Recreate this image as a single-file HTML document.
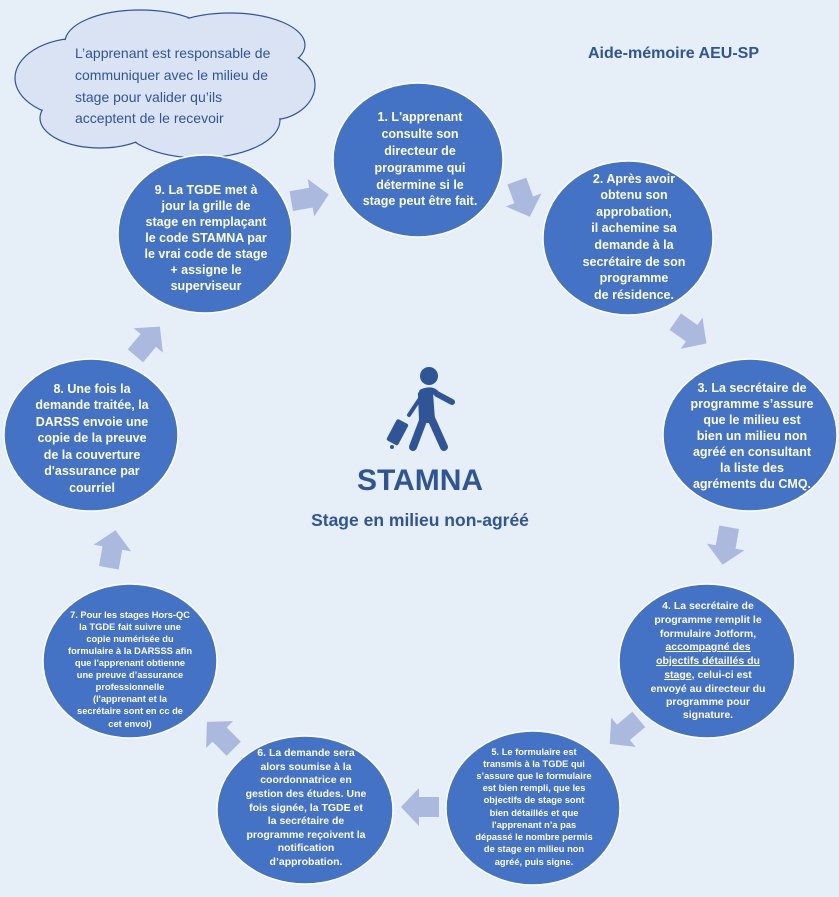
<!DOCTYPE html>
<html><head><meta charset="utf-8"><style>
html,body{margin:0;padding:0;background:#e6eef8;}
svg{display:block;}
.c{fill:#4472c4;stroke:#fff;stroke-width:1.5;}
.t{fill:#fff;font-family:"Liberation Sans",sans-serif;font-weight:bold;text-anchor:middle;}
.a{fill:#aab9dd;}
</style></head><body>
<svg width="839" height="897" viewBox="0 0 839 897" xmlns="http://www.w3.org/2000/svg">
<rect width="839" height="897" fill="#e6eef8"/>
<!-- cloud -->
<g fill="#dae3f3" stroke="#2f5597" stroke-width="1.2">
<ellipse cx="80" cy="78" rx="65" ry="40"/>
<ellipse cx="140" cy="42" rx="75" ry="32"/>
<ellipse cx="230" cy="45" rx="75" ry="32"/>
<ellipse cx="270" cy="85" rx="45" ry="35"/>
<ellipse cx="200" cy="120" rx="80" ry="38"/>
<ellipse cx="100" cy="118" rx="60" ry="30"/>
</g>
<g fill="#dae3f3">
<ellipse cx="80" cy="78" rx="64" ry="39"/>
<ellipse cx="140" cy="42" rx="74" ry="31"/>
<ellipse cx="230" cy="45" rx="74" ry="31"/>
<ellipse cx="270" cy="85" rx="44" ry="34"/>
<ellipse cx="200" cy="120" rx="79" ry="37"/>
<ellipse cx="100" cy="118" rx="59" ry="29"/>
<ellipse cx="170" cy="85" rx="120" ry="50"/>
</g>
<g fill="#2f5597" font-family="Liberation Sans,sans-serif" font-size="14">
<text x="75" y="58">L’apprenant est responsable de</text>
<text x="75" y="80">communiquer avec le milieu de</text>
<text x="75" y="102">stage pour valider qu’ils</text>
<text x="75" y="123">acceptent de le recevoir</text>
</g>
<text x="588" y="58" fill="#2f5597" font-family="Liberation Sans,sans-serif" font-weight="bold" font-size="16">Aide-mémoire AEU-SP</text>

<!-- arrows -->
<g class="a">
<polygon points="-18,-10 2,-10 2,-19 20,0 2,19 2,10 -18,10" transform="translate(309,198) rotate(-10)"/>
<polygon points="-18,-10 2,-10 2,-19 20,0 2,19 2,10 -18,10" transform="translate(523,198) rotate(70)"/>
<polygon points="-18,-10 2,-10 2,-19 20,0 2,19 2,10 -18,10" transform="translate(690,332) rotate(35)"/>
<polygon points="-18,-10 2,-10 2,-19 20,0 2,19 2,10 -18,10" transform="translate(726,545) rotate(100)"/>
<polygon points="-18,-10 2,-10 2,-19 20,0 2,19 2,10 -18,10" transform="translate(625,731) rotate(140)"/>
<polygon points="-18,-10 2,-10 2,-19 20,0 2,19 2,10 -18,10" transform="translate(421,807) rotate(180)"/>
<polygon points="-18,-10 2,-10 2,-19 20,0 2,19 2,10 -18,10" transform="translate(221,736) rotate(225)"/>
<polygon points="-18,-10 2,-10 2,-19 20,0 2,19 2,10 -18,10" transform="translate(112,550) rotate(-80)"/>
<polygon points="-18,-10 2,-10 2,-19 20,0 2,19 2,10 -18,10" transform="translate(147,342) rotate(-50)"/>
</g>

<!-- circles -->
<ellipse class="c" cx="418" cy="160" rx="85" ry="77"/>
<ellipse class="c" cx="628" cy="238" rx="85" ry="77"/>
<ellipse class="c" cx="750" cy="435" rx="87" ry="76"/>
<ellipse class="c" cx="707" cy="661" rx="88" ry="77"/>
<ellipse class="c" cx="533" cy="808" rx="87" ry="77"/>
<ellipse class="c" cx="305" cy="810" rx="88" ry="74"/>
<ellipse class="c" cx="130" cy="661" rx="87" ry="77"/>
<ellipse class="c" cx="91" cy="435" rx="87" ry="76"/>
<ellipse class="c" cx="205" cy="234" rx="87" ry="79"/>

<g class="t" font-size="12.5">
<text x="420" y="121">1. L'apprenant</text>
<text x="420" y="138">consulte son</text>
<text x="420" y="155">directeur de</text>
<text x="420" y="172">programme qui</text>
<text x="420" y="189">détermine si le</text>
<text x="420" y="205">stage peut être fait.</text>

<text x="634" y="183">2. Après avoir</text>
<text x="634" y="199">obtenu son</text>
<text x="634" y="216">approbation,</text>
<text x="634" y="232">il achemine sa</text>
<text x="634" y="249">demande à la</text>
<text x="634" y="266">secrétaire de son</text>
<text x="634" y="282">programme</text>
<text x="634" y="299">de résidence.</text>

<text x="752" y="392">3. La secrétaire de</text>
<text x="752" y="408">programme s’assure</text>
<text x="752" y="424">que le milieu est</text>
<text x="752" y="440">bien un milieu non</text>
<text x="752" y="456">agréé en consultant</text>
<text x="752" y="472">la liste des</text>
<text x="752" y="488">agréments du CMQ.</text>

<text x="206" y="194">9. La TGDE met à</text>
<text x="206" y="210">jour la grille de</text>
<text x="206" y="226">stage en remplaçant</text>
<text x="206" y="242">le code STAMNA par</text>
<text x="206" y="258">le vrai code de stage</text>
<text x="206" y="274">+ assigne le</text>
<text x="206" y="290">superviseur</text>

<text x="92" y="393">8. Une fois la</text>
<text x="92" y="409">demande traitée, la</text>
<text x="92" y="426">DARSS envoie une</text>
<text x="92" y="442">copie de la preuve</text>
<text x="92" y="459">de la couverture</text>
<text x="92" y="475">d'assurance par</text>
<text x="92" y="492">courriel</text>
</g>

<g class="t" font-size="10.5">
<text x="708" y="609">4. La secrétaire de</text>
<text x="708" y="623">programme remplit le</text>
<text x="708" y="637">formulaire Jotform,</text>
<text x="708" y="650" text-decoration="underline">accompagné des</text>
<text x="708" y="664" text-decoration="underline">objectifs détaillés du</text>
<text x="708" y="678"><tspan text-decoration="underline">stage,</tspan> celui-ci est</text>
<text x="708" y="692">envoyé au directeur du</text>
<text x="708" y="705">programme pour</text>
<text x="708" y="718">signature.</text>

<text x="306" y="756">6. La demande sera</text>
<text x="306" y="770">alors soumise à la</text>
<text x="306" y="783">coordonnatrice en</text>
<text x="306" y="797">gestion des études. Une</text>
<text x="306" y="811">fois signée, la TGDE et</text>
<text x="306" y="824">la secrétaire de</text>
<text x="306" y="838">programme reçoivent la</text>
<text x="306" y="851">notification</text>
<text x="306" y="865">d’approbation.</text>
</g>

<g class="t" font-size="9.3">
<text x="534" y="755">5. Le formulaire est</text>
<text x="534" y="767">transmis à la TGDE qui</text>
<text x="534" y="779">s’assure que le formulaire</text>
<text x="534" y="791">est bien rempli, que les</text>
<text x="534" y="803">objectifs de stage sont</text>
<text x="534" y="816">bien détaillés et que</text>
<text x="534" y="828">l'apprenant n’a pas</text>
<text x="534" y="840">dépassé le nombre permis</text>
<text x="534" y="852">de stage en milieu non</text>
<text x="534" y="865">agréé, puis signe.</text>

<text x="130" y="618">7. Pour les stages Hors-QC</text>
<text x="130" y="630">la TGDE fait suivre une</text>
<text x="130" y="642">copie numérisée du</text>
<text x="130" y="654">formulaire à la DARSSS afin</text>
<text x="130" y="666">que l'apprenant obtienne</text>
<text x="130" y="678">une preuve d’assurance</text>
<text x="130" y="690">professionnelle</text>
<text x="130" y="702">(l'apprenant et la</text>
<text x="130" y="714">secrétaire sont en cc de</text>
<text x="130" y="727">cet envoi)</text>
</g>

<!-- person icon -->
<g fill="#2f5597" stroke="#2f5597" stroke-linecap="round">
<circle cx="429" cy="376" r="9" stroke="none"/>
<path d="M422 392 Q432 388 437 394 L452 402" fill="none" stroke-width="6"/>
<path d="M421 395 L430 393 L432 420 L422 420 Z" stroke-width="6"/>
<path d="M424 418 L413 447" fill="none" stroke-width="8"/>
<path d="M431 418 L444 447" fill="none" stroke-width="8"/>
<path d="M421 397 L409 415" fill="none" stroke-width="4"/>
<rect x="391" y="420" width="13" height="24" rx="2" transform="rotate(28 397 432)" stroke="none"/>
<circle cx="392" cy="447" r="2" stroke="none"/>
</g>
<text x="420" y="490" fill="#2f5597" font-family="Liberation Sans,sans-serif" font-weight="bold" font-size="30" text-anchor="middle">STAMNA</text>
<text x="420" y="526" fill="#2f5597" font-family="Liberation Sans,sans-serif" font-weight="bold" font-size="17.5" text-anchor="middle">Stage en milieu non-agréé</text>
</svg>
</body></html>
